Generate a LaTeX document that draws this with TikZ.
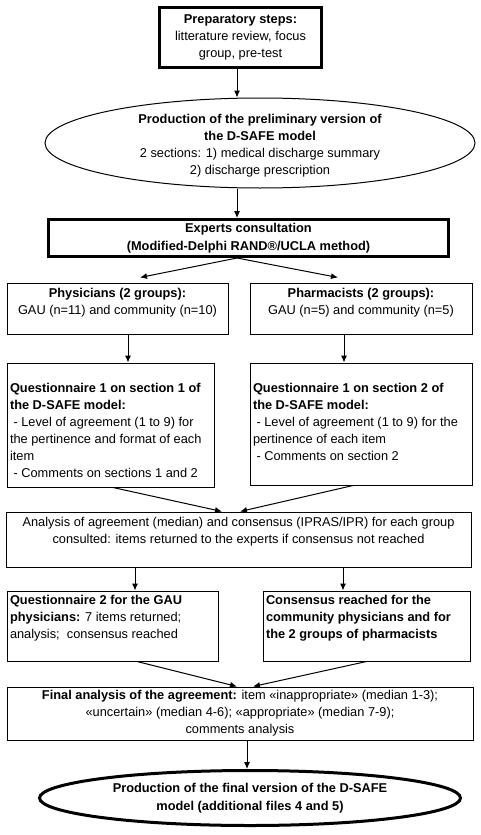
\documentclass[tikz,border=0pt]{standalone}
\usepackage{fontspec}
\setmainfont{Liberation Sans}
\usetikzlibrary{shapes.geometric,arrows.meta}
\newcommand{\flowfont}{\fontsize{12.8}{17}\selectfont}
\newcommand{\topbox}[3]{\parbox[c][#1][t]{#2}{#3}}

\begin{document}
\begin{tikzpicture}[x=1pt,y=-1pt,font=\flowfont]

        \useasboundingbox (0,0) rectangle (480,835);
        \coordinate (axis) at (237,0);

        \begin{scope}[every node/.style={draw,rectangle,line width=1pt,inner sep=0pt,align=center}]
          \node[line width=3pt,minimum width=162pt,minimum height=60pt] (prep) at (240.5,37.5)
            {\textbf{Preparatory steps:}\\litterature review, focus\\group, pre-test};
          \node[line width=3pt,minimum width=400pt,minimum height=37pt] (experts) at (248.5,238)
            {\textbf{Experts consultation}\\[1.5pt]\textbf{(Modified-Delphi RAND®/UCLA method)}};
          \node[minimum width=466pt,minimum height=53pt] (final) at (240,713.5)
            {\textbf{Final analysis of the agreement:} item «inappropriate» (median 1-3);\\«uncertain» (median 4-6); «appropriate» (median 7-9);\\comments analysis};
        \end{scope}

        \begin{scope}[every node/.style={draw,rectangle,line width=1pt,inner xsep=3pt,inner ysep=0pt}]
          \node (phys)  at (117.5,308.5) {\topbox{51pt}{215pt}{\centering\vspace*{2.7pt}\strut\textbf{Physicians (2 groups):}\\GAU (n=11) and community (n=10)}};
          \node (pharm) at (361,308.5)   {\topbox{51pt}{216pt}{\centering\vspace*{2.7pt}\strut\textbf{Pharmacists (2 groups):}\\GAU (n=5) and community (n=5)}};
          \node (q1a)   at (110.5,425)   {\topbox{124pt}{201pt}{\raggedright\vspace*{17.7pt}\strut\textbf{Questionnaire 1 on section 1 of}\\\textbf{the D-SAFE model:}\\\ - Level of agreement (1 to 9) for\\the pertinence and format of each\\item\\\ - Comments on sections 1 and 2}};
          \node (q1b)   at (361,424)     {\topbox{122pt}{216pt}{\raggedright\vspace*{17.7pt}\strut\textbf{Questionnaire 1 on section 2 of}\\\textbf{the D-SAFE model:}\\\ - Level of agreement (1 to 9) for the\\pertinence of each item\\\ - Comments on section 2}};
          \node (analysis) at (238.5,539.5) {\topbox{55pt}{459pt}{\centering\vspace*{2.7pt}\strut Analysis of agreement (median) and consensus (IPRAS/IPR) for each group\\consulted: items returned to the experts if consensus not reached}};
          \node (q2)    at (112.5,626)   {\topbox{70pt}{205pt}{\raggedright\vspace*{1.7pt}\strut\textbf{Questionnaire 2 for the GAU}\\\textbf{physicians:} 7 items returned;\\analysis;\ \ consensus reached}};
          \node (cons)  at (366.5,626)   {\topbox{70pt}{201pt}{\raggedright\vspace*{1.7pt}\strut\textbf{Consensus reached for the}\\\textbf{community physicians and for}\\\textbf{the 2 groups of pharmacists}}};
        \end{scope}

        \begin{scope}[every node/.style={inner sep=0pt}]
          \node[draw,ellipse,line width=1pt,minimum width=430pt,minimum height=90pt,
            label={[align=center,yshift=-3pt]center:{\textbf{Production of the preliminary version of}\\\textbf{the D-SAFE model}\\2 sections: 1) medical discharge summary\\2) discharge prescription}}] (prelim) at (260,143) {};
          \node[draw,ellipse,line width=3pt,minimum width=421pt,minimum height=55pt,
            label={[align=center]center:{\textbf{Production of the final version of the D-SAFE}\\[1.5pt]\textbf{model (additional files 4 and 5)}}}] (dsafe) at (250,798) {};
        \end{scope}

        \begin{scope}[every edge/.style={draw,line width=1pt,-{Latex[length=7pt,width=6pt]}}]
          \path ([xshift=-3.5pt]prep.south) edge (prelim.north -| axis);
          \path (prelim.south -| axis) edge (experts.north -| axis);
          \path (experts.south -| axis) edge ([xshift=22.5pt,yshift=5pt]phys.north);
          \path (experts.south -| axis) edge ([xshift=-23pt,yshift=5pt]pharm.north);
          \path ([xshift=10.5pt]phys.south) edge ([xshift=17.5pt]q1a.north);
          \path ([xshift=-17pt]pharm.south) edge ([xshift=-17pt]q1b.north);
          \path ([xshift=2.5pt]q1a.south) edge ([xshift=-16.5pt]analysis.north);
          \path ([xshift=-8pt]q1b.south) edge ([xshift=1.5pt]analysis.north);
          \path ([xshift=-103.5pt]analysis.south) edge ([xshift=22.5pt]q2.north);
          \path ([xshift=104.5pt]analysis.south) edge ([xshift=-23.5pt]cons.north);
          \path ([xshift=24.5pt]q2.south) edge ([xshift=-3pt]final.north);
          \path (cons.south) edge ([xshift=13pt]final.north);
          \path ([xshift=7pt]final.south) edge ([xshift=-3pt]dsafe.north);
        \end{scope}

\end{tikzpicture}
\end{document}
